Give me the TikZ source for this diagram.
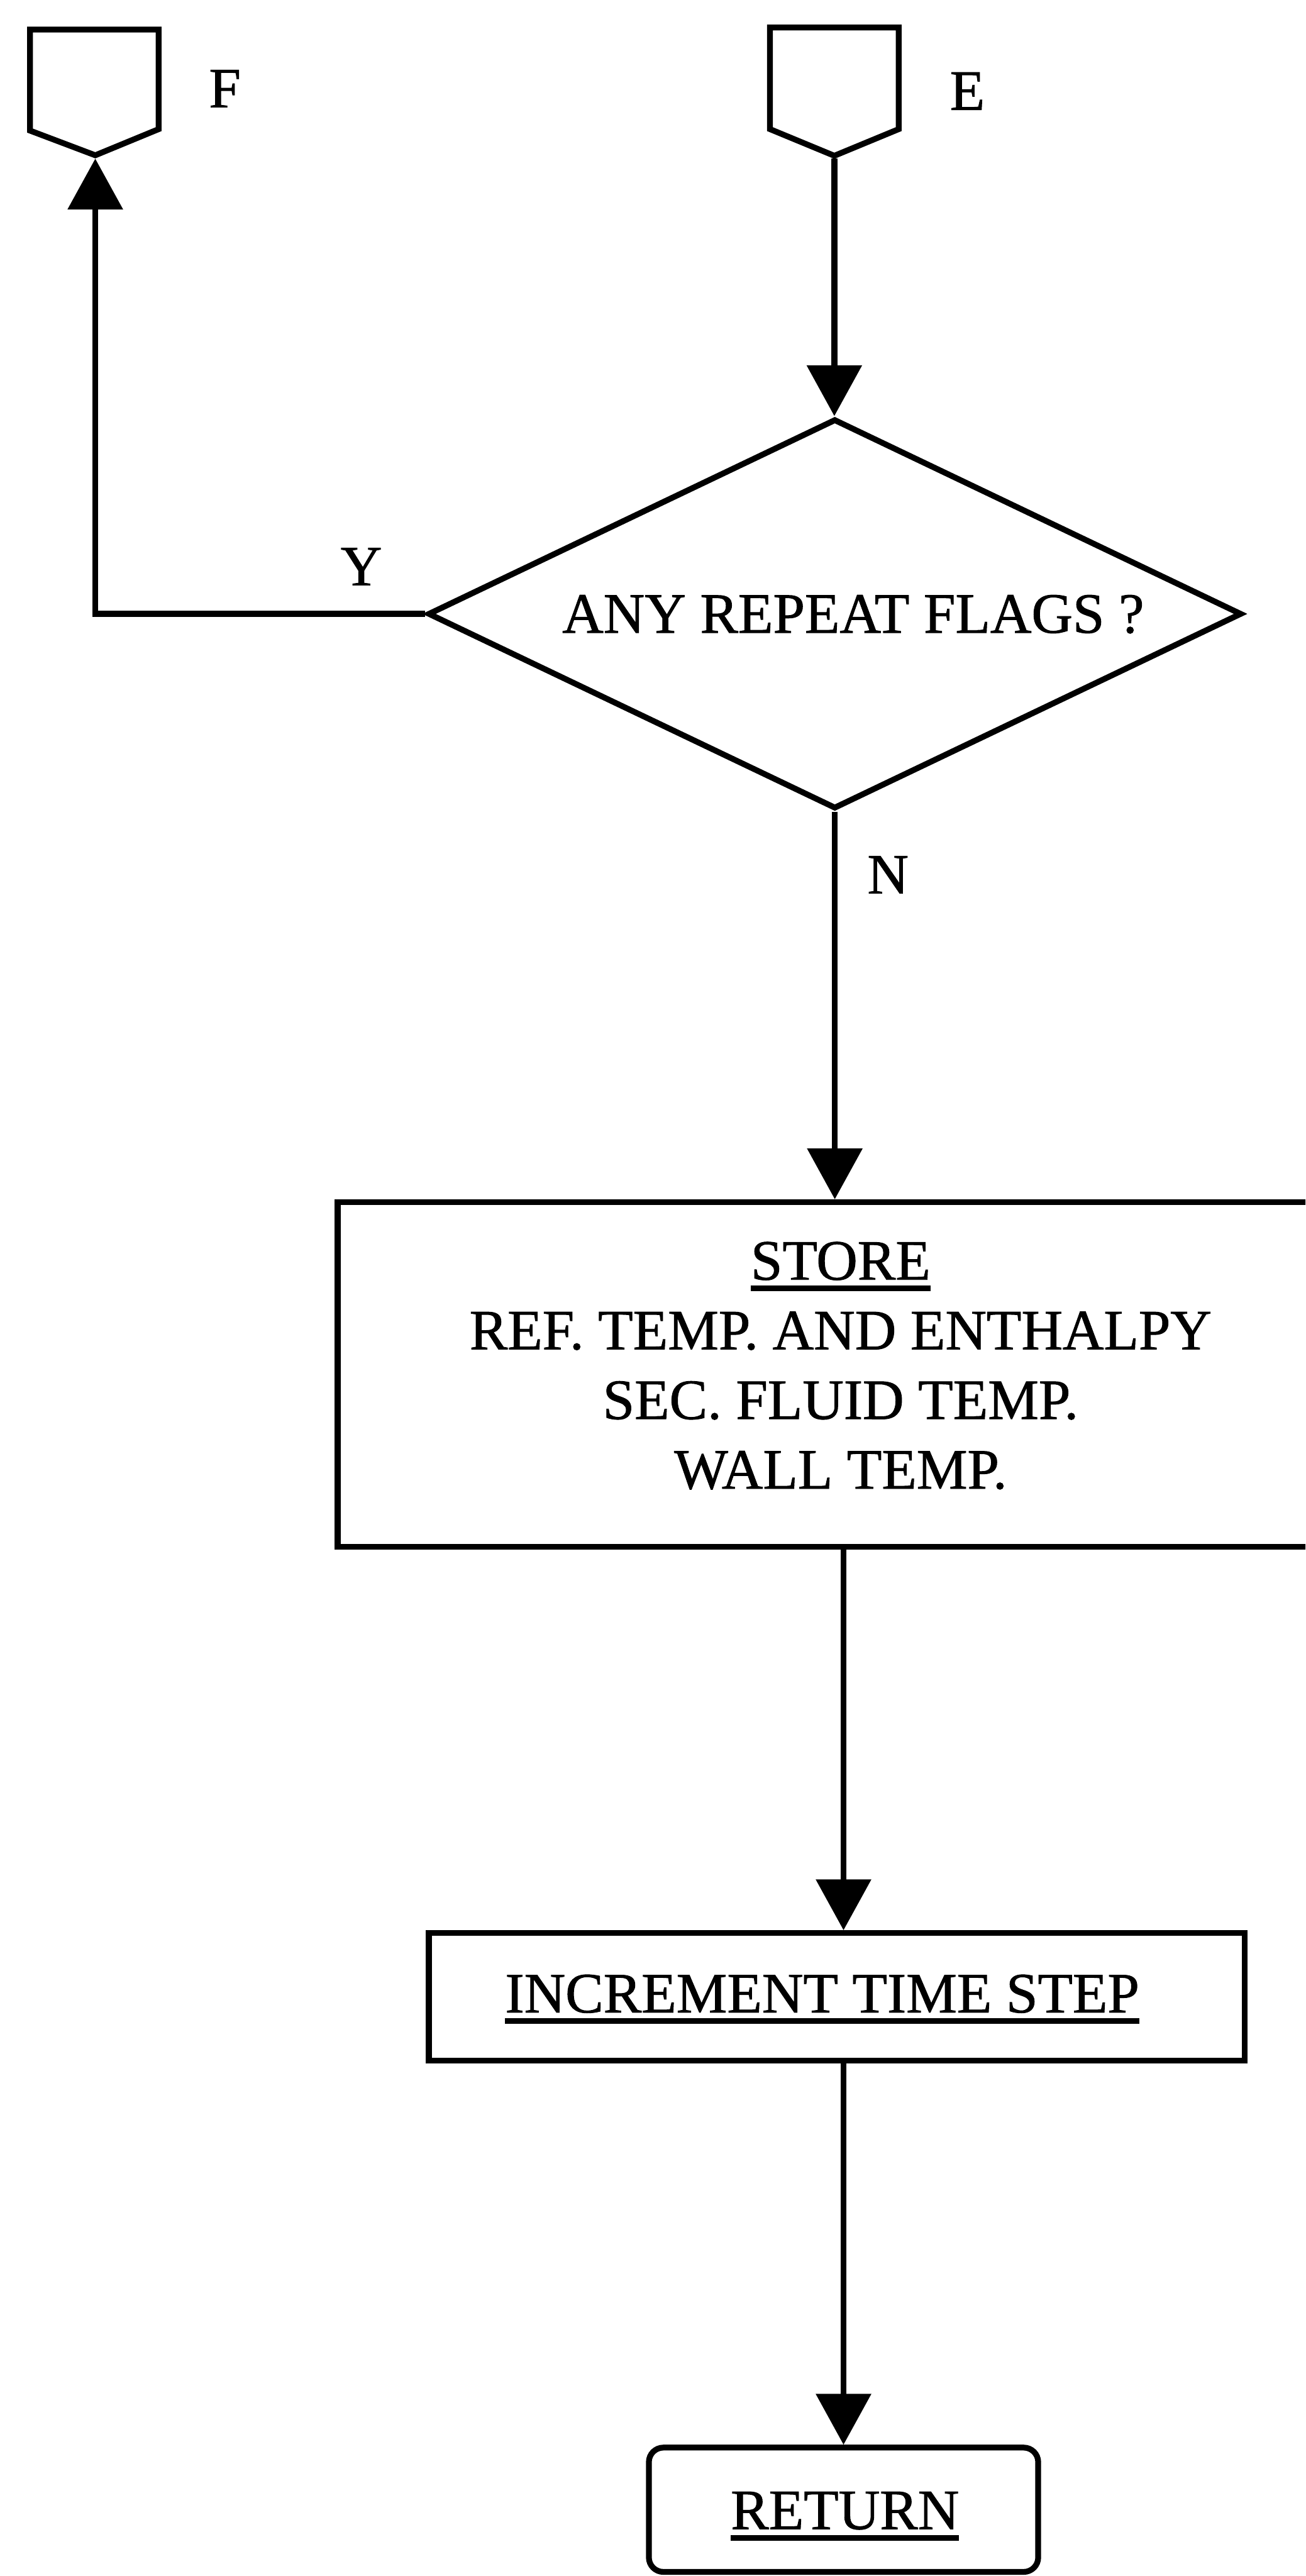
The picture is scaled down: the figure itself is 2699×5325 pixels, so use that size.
\documentclass[tikz,border=0pt]{standalone}
\usepackage{fontspec}
\setmainfont{Liberation Serif}[FakeBold=1]
\usetikzlibrary{arrows.meta,shapes.geometric}
\newcommand\ulin[1]{\leavevmode\sbox0{#1}\rlap{\rule[-0.2em]{\wd0}{0.1em}}\usebox0}
\begin{document}
\begin{tikzpicture}[x=0.1pt,y=-0.1pt,
  lw/.style={line width=1.2pt},
  flowbox/.style={draw, lw, rectangle, inner sep=0pt},
  txt/.style={font=\fontsize{11.8pt}{14.4pt}\selectfont, anchor=base, inner sep=0pt, outer sep=0pt},
  arr/.style={lw, -{Triangle[length=10.5pt,width=11.2pt]}},
  conn/.style={draw, lw, line join=miter}]
\useasboundingbox (0,0) rectangle (2699,5325);
\clip (0,0) rectangle (2699,5325);
% off-page connectors
\draw[conn] (62,61) -- (328,61) -- (328,267) -- (197,321) -- (62,270) -- cycle;
\coordinate (Fpt) at (197,328);
\draw[conn] (1592,57) -- (1858,57) -- (1858,267) -- (1725,322) -- (1592,267) -- cycle;
\coordinate (Ept) at (1725,328);
% shapes
\node[draw, lw, diamond, inner sep=0pt, aspect=2.09, minimum width=168.3pt, minimum height=80.6pt] (dia) at (1726,1269) {};
\node[flowbox, minimum width=207.8pt, minimum height=71.2pt] (store) at (1737,2841) {};
\node[flowbox, minimum width=168.7pt, minimum height=26.4pt] (inc) at (1730,4128) {};
\node[flowbox, rounded corners=3pt, minimum width=80.5pt, minimum height=25.7pt] (ret) at (1744,5188) {};
% texts
\node[txt] (tF) at (465,222) {F};
\node[txt] (tE) at (2000,227) {E};
\node[txt] (tY) at (747,1210) {Y};
\node[txt] (tN) at (1836,1847) {N};
\node[txt] (tdia) at (1764,1308) {ANY REPEAT FLAGS ?};
\node[txt, align=center, anchor=south] (tstore) at (1738,3079) {\ulin{STORE}\\REF. TEMP. AND ENTHALPY\\SEC. FLUID TEMP.\\WALL TEMP.};
\node[txt] (tinc) at (1700,4160) {\ulin{INCREMENT TIME STEP}};
\node[txt] (tret) at (1747,5228) {\ulin{RETURN}};
% connectors
\draw[arr] (Ept) -- (Ept |- dia.north);
\draw[arr] (dia.west) -- (dia.west -| Fpt) -- (Fpt);
\draw[arr] (dia.south) -- (dia.south |- store.north);
\draw[arr] (store.south -| ret.north) -- (inc.north -| ret.north);
\draw[arr] (inc.south -| ret.north) -- (ret.north);
\end{tikzpicture}
\end{document}
